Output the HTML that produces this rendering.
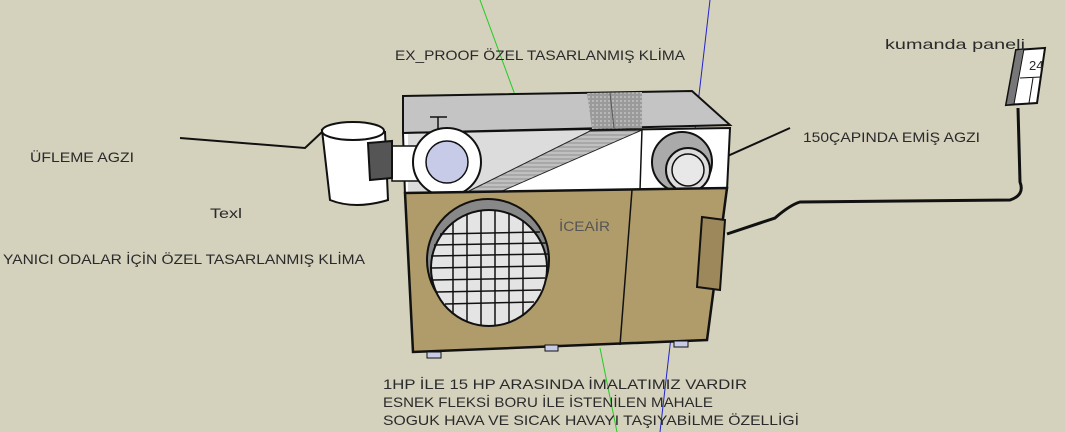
<!DOCTYPE html>
<html><head><meta charset="utf-8"><style>
html,body{margin:0;padding:0;background:#d4d1bd;}
svg{display:block}
text{font-family:"Liberation Sans",sans-serif;font-size:14px;fill:#2a2a2a;}
</style></head><body>
<svg width="1065" height="432" viewBox="0 0 1065 432" xmlns="http://www.w3.org/2000/svg">
<defs>
<pattern id="hatch" width="6" height="4" patternUnits="userSpaceOnUse"><rect width="6" height="4" fill="#a8a8a8"/><line x1="0" y1="1" x2="6" y2="1" stroke="#d8d8d8" stroke-width="1"/></pattern>
<pattern id="dots" width="4" height="4" patternUnits="userSpaceOnUse"><rect width="4" height="4" fill="#9a9a9a"/><rect width="2" height="2" fill="#b8b8b8"/></pattern>
</defs>
<line x1="480" y1="0" x2="515" y2="95" stroke="#2c2" stroke-width="1"/>
<line x1="600" y1="348" x2="617" y2="432" stroke="#2c2" stroke-width="1"/>
<line x1="710" y1="0" x2="660" y2="432" stroke="#22c" stroke-width="1"/>
<polyline points="180,138 305,148 322,132" fill="none" stroke="#111" stroke-width="2"/>
<line x1="712" y1="163" x2="790" y2="128" stroke="#111" stroke-width="2"/>
<path d="M727,234 L775,218 Q790,205 800,202 L1010,200 Q1025,195 1020,182 L1018,108" fill="none" stroke="#111" stroke-width="3"/>
<polygon points="1016,50 1045,48 1037,103 1006,105" fill="#fff" stroke="#111" stroke-width="2"/>
<polygon points="1016,50 1024,49 1014,104 1006,105" fill="#777" stroke="#111" stroke-width="1"/>
<line x1="1020" y1="78" x2="1041" y2="77" stroke="#111"/>
<line x1="1033" y1="78" x2="1029" y2="103" stroke="#111"/>
<text x="1029" y="70" style="font-size:13px">24</text>
<path d="M322,130 L330,200 Q355,210 388,200 L385,132 Z" fill="#fff" stroke="#111" stroke-width="2"/>
<ellipse cx="353" cy="131" rx="31" ry="9" fill="#fff" stroke="#111" stroke-width="2"/>
<polygon points="403,96 692,91 730,125 403,133" fill="#c4c4c4" stroke="#111" stroke-width="2"/>
<polygon points="587,93 642,92 642,128 592,129" fill="url(#dots)"/>
<line x1="610" y1="93" x2="614" y2="128" stroke="#555"/>
<line x1="430" y1="117" x2="447" y2="117" stroke="#111" stroke-width="1.5"/>
<line x1="438" y1="117" x2="438" y2="130" stroke="#111" stroke-width="1.5"/>
<polygon points="403,133 730,128 727,190 405,195" fill="#fff" stroke="#111" stroke-width="2"/>
<polygon points="408,134 590,130 500,192 408,195" fill="#dcdcdc"/>
<polygon points="467,192 500,192 642,130 590,131" fill="url(#hatch)" stroke="#222" stroke-width="1"/>
<line x1="642" y1="129" x2="640" y2="190" stroke="#111" stroke-width="1.5"/>
<rect x="392" y="146" width="53" height="35" fill="#fff" stroke="#111" stroke-width="1.5"/>
<polygon points="368,143 392,141 392,178 370,180" fill="#555" stroke="#111" stroke-width="2"/>
<circle cx="447" cy="162" r="34" fill="#fff" stroke="#111" stroke-width="2"/>
<circle cx="447" cy="162" r="21" fill="#c8cbe8" stroke="#111" stroke-width="1.5"/>
<circle cx="682" cy="162" r="30" fill="#aaa" stroke="#111" stroke-width="2"/>
<circle cx="688" cy="170" r="22" fill="#ddd" stroke="#111" stroke-width="2"/>
<circle cx="688" cy="170" r="16" fill="#e8e8e8" stroke="#111" stroke-width="1.5"/>
<polygon points="405,193 727,188 707,340 413,352" fill="#b09c6a" stroke="#111" stroke-width="2.5"/>
<line x1="632" y1="190" x2="620" y2="345" stroke="#111" stroke-width="1.5"/>
<circle cx="488" cy="260" r="61" fill="#888" stroke="#111" stroke-width="2"/>
<circle cx="489" cy="268" r="58" fill="#e4e4e4" stroke="#111" stroke-width="2"/>
<g stroke="#111" stroke-width="1.5">
<line x1="434" y1="245" x2="546" y2="243"/><line x1="431" y1="256" x2="548" y2="254"/><line x1="431" y1="268" x2="547" y2="266"/><line x1="433" y1="280" x2="545" y2="278"/><line x1="437" y1="292" x2="541" y2="290"/><line x1="445" y1="304" x2="534" y2="302"/><line x1="440" y1="234" x2="540" y2="232"/>
<line x1="453" y1="222" x2="453" y2="314"/><line x1="467" y1="214" x2="467" y2="322"/><line x1="481" y1="211" x2="481" y2="325"/><line x1="495" y1="211" x2="495" y2="325"/><line x1="509" y1="214" x2="509" y2="322"/><line x1="523" y1="220" x2="523" y2="316"/>
</g>
<polygon points="702,217 725,220 720,290 697,287" fill="#9c885a" stroke="#111" stroke-width="2"/>
<rect x="427" y="352" width="14" height="6" fill="#c8cbe8" stroke="#111"/>
<rect x="545" y="345" width="13" height="6" fill="#c8cbe8" stroke="#111"/>
<rect x="674" y="341" width="14" height="6" fill="#c8cbe8" stroke="#111"/>
<text x="395" y="60" textLength="290" lengthAdjust="spacingAndGlyphs">EX_PROOF  ÖZEL TASARLANMIŞ KLİMA</text>
<text x="885" y="49" textLength="140" lengthAdjust="spacingAndGlyphs">kumanda paneli</text>
<text x="803" y="142" textLength="177" lengthAdjust="spacingAndGlyphs">150ÇAPINDA EMİŞ AGZI</text>
<text x="30" y="162" textLength="104" lengthAdjust="spacingAndGlyphs">ÜFLEME AGZI</text>
<text x="210" y="218" textLength="32" lengthAdjust="spacingAndGlyphs">Texl</text>
<text x="3" y="264" textLength="362" lengthAdjust="spacingAndGlyphs">YANICI ODALAR İÇİN ÖZEL TASARLANMIŞ KLİMA</text>
<text x="559" y="231" style="fill:#555" textLength="51" lengthAdjust="spacingAndGlyphs">İCEAİR</text>
<text x="383" y="389" textLength="364" lengthAdjust="spacingAndGlyphs">1HP  İLE  15 HP  ARASINDA İMALATIMIZ VARDIR</text>
<text x="383" y="407" textLength="330" lengthAdjust="spacingAndGlyphs">ESNEK FLEKSİ BORU İLE İSTENİLEN MAHALE</text>
<text x="383" y="425" textLength="416" lengthAdjust="spacingAndGlyphs">SOGUK HAVA VE SICAK HAVAYI TAŞIYABİLME ÖZELLİGİ</text>
</svg>
</body></html>
